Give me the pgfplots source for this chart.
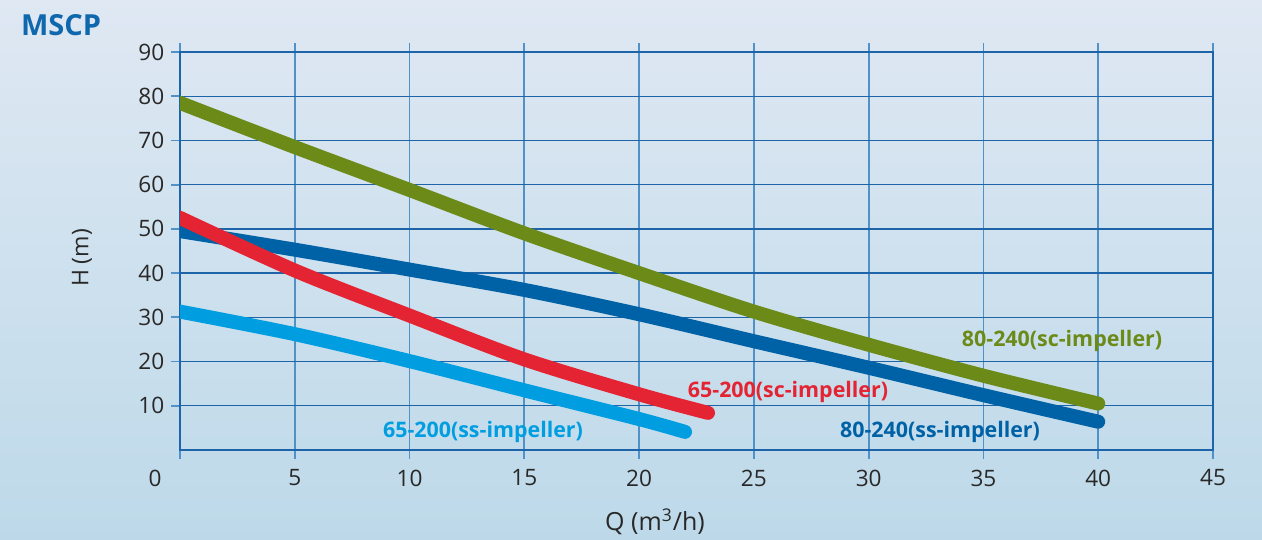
\documentclass[border=0pt]{standalone}
\usepackage{pgfplots}
\pgfplotsset{compat=1.18}
\usepackage{fontspec}
\setmainfont{Open Sans}
\definecolor{bgtop}{RGB}{223,232,243}
\definecolor{bgbot}{RGB}{189,217,233}
\definecolor{hgrid}{RGB}{30,100,168}
\definecolor{vgrid}{RGB}{80,145,200}
\definecolor{cgreen}{RGB}{107,138,23}
\definecolor{cdblue}{RGB}{0,98,166}
\definecolor{cred}{RGB}{228,36,50}
\definecolor{clblue}{RGB}{0,158,224}
\definecolor{ctitle}{RGB}{15,103,173}
\definecolor{ctext}{RGB}{40,40,40}
\begin{document}
\begin{tikzpicture}
\shade[top color=bgtop, bottom color=bgbot] (0,0) rectangle (631pt,270pt);
\path[use as bounding box] (0,0) rectangle (631pt,270pt);
\begin{axis}[
  at={(90pt,45pt)}, anchor=south west,
  scale only axis, width=516.5pt, height=199pt,
  xmin=0, xmax=45, ymin=0, ymax=90,
  xtick={0,5,...,45}, ytick={10,20,...,90},
  xticklabels={,5,10,15,20,25,30,35,40,45},
  xtick pos=both, ytick pos=left,
  tick align=outside, major tick length=4.3pt,
  tick style={color=vgrid, line width=0.9pt},
  grid=major,
  x grid style={color=vgrid, line width=0.9pt},
  y grid style={color=hgrid, line width=0.7pt},
  axis line style={color=hgrid, line width=0.8pt},
  /pgf/number format/assume math mode=true,
  ticklabel style={font=\fontsize{11.3}{13}\selectfont, text=ctext},
  xticklabel style={yshift=-2pt},
  yticklabel style={xshift=0pt},
  clip=true,
]
\addplot[cgreen, line width=7pt, line cap=round, smooth] coordinates {
  (0,78.5) (5,68.5) (10,58.8) (15,49.0) (20,40.0) (25,31.3) (30,23.8) (35,16.8) (40,10.5)};
\addplot[cdblue, line width=7pt, line cap=round, smooth] coordinates {
  (0,49.5) (5,45.3) (10,40.8) (15,36.2) (20,30.7) (25,24.6) (30,18.6) (35,12.4) (40,6.4)};
\addplot[clblue, line width=7pt, line cap=round, smooth] coordinates {
  (0,31.3) (5,26.2) (10,20.1) (15,13.5) (20,7.0) (22,4.1)};
\addplot[cred, line width=7pt, line cap=round, smooth] coordinates {
  (0,52.5) (5,40.6) (10,30.4) (15,20.5) (20,12.6) (23,8.4)};
\end{axis}
\node[font=\bfseries\fontsize{14.5}{16}\selectfont, text=ctitle, anchor=west] at (7pt,257.5pt) {MSCP};
\node[font=\fontsize{11.3}{13}\selectfont, text=ctext] at (77.5pt,31pt) {0};
\node[font=\fontsize{11.5}{13}\selectfont, text=ctext, rotate=90] at (41pt,141pt) {H (m)};
\node[font=\fontsize{12.5}{14}\selectfont, text=ctext] at (327.5pt,9pt) {Q (m\textsuperscript{3}/h)};
\node[font=\bfseries\fontsize{10.7}{12}\selectfont, text=cgreen] at (531pt,99.5pt) {80-240(sc-impeller)};
\node[font=\bfseries\fontsize{10.7}{12}\selectfont, text=cred] at (394pt,74pt) {65-200(sc-impeller)};
\node[font=\bfseries\fontsize{10.7}{12}\selectfont, text=cdblue] at (470pt,54pt) {80-240(ss-impeller)};
\node[font=\bfseries\fontsize{10.7}{12}\selectfont, text=clblue] at (241.5pt,54pt) {65-200(ss-impeller)};
\end{tikzpicture}
\end{document}
